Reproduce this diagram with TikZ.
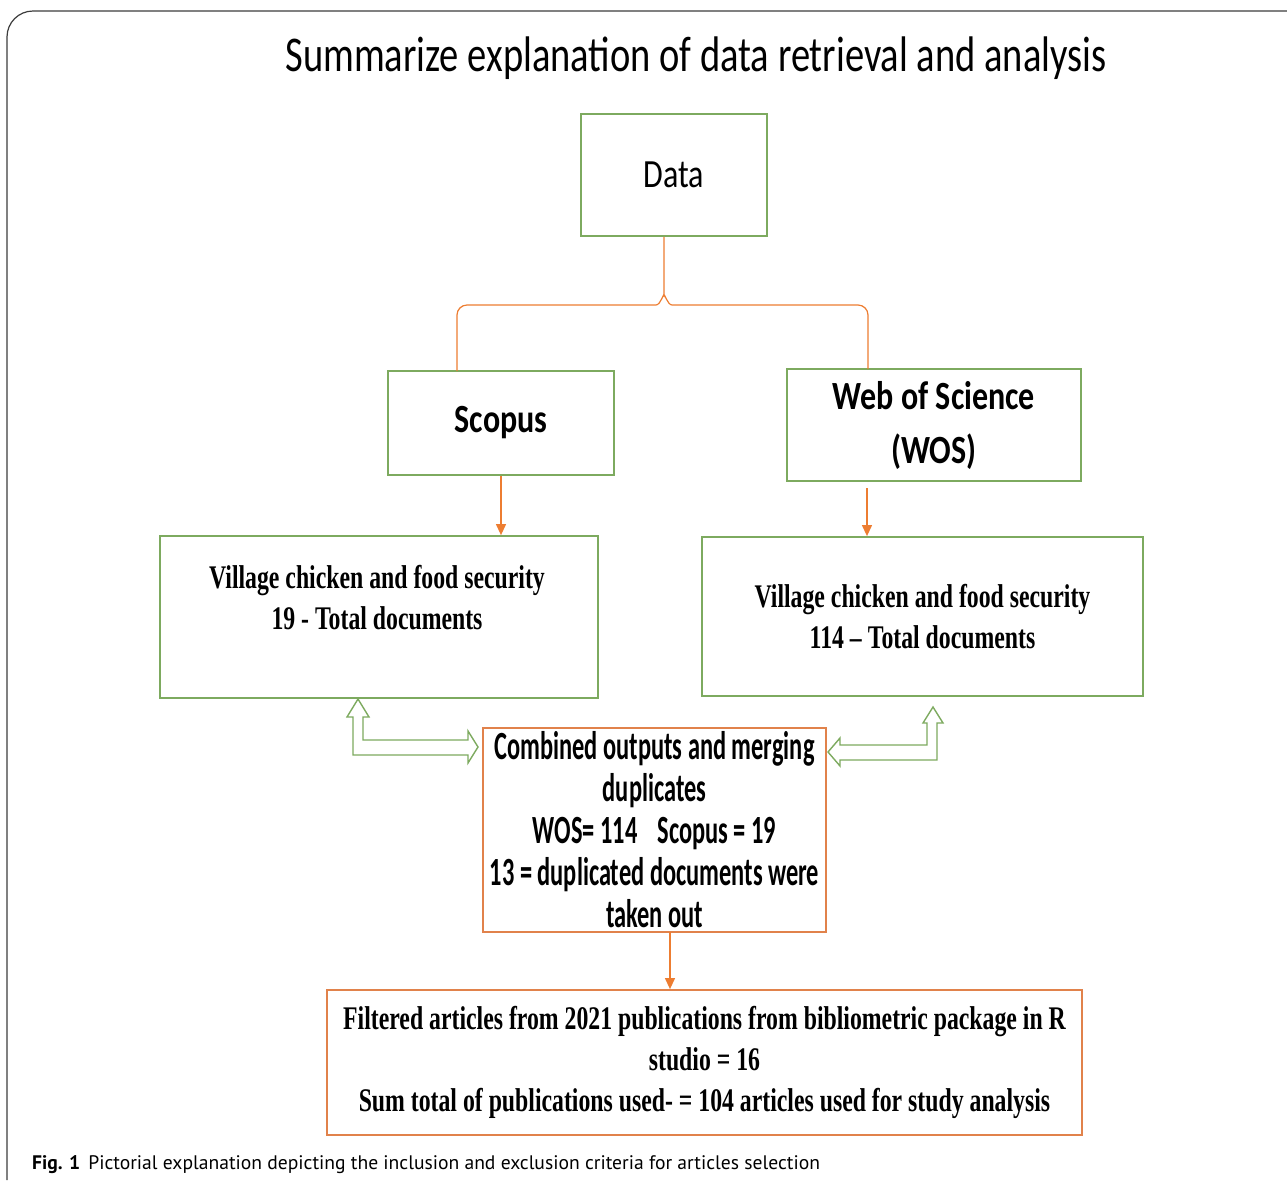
\documentclass[tikz,border=0pt]{standalone}
\usepackage{fontspec}
\setmainfont{Liberation Serif}
\newfontfamily\titrefont[FakeStretch=0.77]{Carlito}
\newfontfamily\sourcefont[FakeStretch=0.8]{Carlito}
\newfontfamily\fusionfont[FakeStretch=0.61]{Carlito}
\newfontfamily\seriffont[FakeStretch=0.72]{Liberation Serif}
\newfontfamily\legendefont{PT Sans}
\usetikzlibrary{arrows.meta}
\definecolor{vertcadre}{RGB}{125,170,95}
\definecolor{orangecadre}{RGB}{225,130,75}
\definecolor{orangefleche}{RGB}{237,125,49}
\definecolor{grisbord}{RGB}{60,60,60}
\begin{document}
\begin{tikzpicture}[x=0.5pt,y=-0.5pt]
% Styles
\tikzstyle{cadre}=[draw=vertcadre,line width=0.9pt,inner sep=0pt]
\tikzstyle{cadreorange}=[draw=orangecadre,line width=0.9pt,inner sep=0pt]
\tikzstyle{fleche}=[-{Triangle[length=5.5pt,width=5pt]},draw=orangefleche,fill=orangefleche,line width=0.6pt]
\tikzstyle{accolade}=[draw=orangefleche,line width=0.6pt]
\tikzstyle{creuse}=[draw=vertcadre,fill=white,line width=0.7pt,line join=miter]
\tikzstyle{titre}=[font=\fontsize{25}{29}\selectfont\titrefont]
\tikzstyle{source}=[font=\fontsize{20}{27}\selectfont\sourcefont\bfseries,align=center]
\tikzstyle{serif}=[font=\fontsize{16.5}{20.5}\selectfont\seriffont\bfseries,align=center]
\tikzstyle{calibri}=[font=\fontsize{20}{21}\selectfont\fusionfont\bfseries,align=center]
% Cadre de la page
\useasboundingbox (0,0) rectangle (1287,1180);
\draw[grisbord,line width=0.6pt,rounded corners=13] (7,1180) -- (7,11) -- (1287,11);
% Titre
\node[titre] (titre) at (696,58) {Summarize explanation of data retrieval and analysis};
% Premiere ligne : Data
\node[cadre,minimum width=93pt,minimum height=61pt,font=\fontsize{20}{24}\selectfont\sourcefont] (data) at (674,175) {Data};
% Deuxieme ligne : bases
\node[cadre,source,minimum width=113pt,minimum height=52pt] (scopus) at (501,423) {\raisebox{-3pt}{Scopus}};
\node[cadre,source,minimum width=147pt,minimum height=56pt] (wos) at (934,425) {\raisebox{-1.5pt}{Web of Science}\\\raisebox{-1.5pt}{(WOS)}};
% Accolade
\coordinate (accG) at (457,371);
\coordinate (accD) at (868,369);
\draw[accolade] (data.south -| 664,0) -- (664,296) to[out=90,in=0] (656,305) -- (467,305)
  to[out=180,in=90] (457,315) -- (accG);
\draw[accolade] (664,296) to[out=90,in=180] (672,305) -- (858,305)
  to[out=0,in=90] (868,315) -- (accD);
% Troisieme ligne : resultats
\node[cadre,minimum width=219pt,minimum height=81pt] (scopusres) at (379,617) {};
\node[serif] (scopusrestxt) at (377,598) {Village chicken and food security\\19 - Total documents};
\node[cadre,serif,minimum width=220.5pt,minimum height=79.5pt] (wosres) at (922.5,616.5) {Village chicken and food security\\114 – Total documents};
\coordinate (wosdep) at (867,488);
\draw[fleche] (scopus.south) -- (scopus.south |- scopusres.north);
\draw[fleche] (wosdep) -- (wosdep |- wosres.north);
% Fusion
\node[cadreorange,calibri,minimum width=171.5pt,minimum height=102pt] (fusion) at (654.5,830) {Combined outputs and merging\\duplicates\\WOS= 114\hspace{10pt}Scopus = 19\\13 = duplicated documents were\\taken out};
% Fleches creuses
\coordinate (flecheG) at (358,699);
\coordinate (flecheD) at (933,707);
\draw[creuse] (flecheG) -- ++(11,18) -- ++(-6,0) -- ++(0,23) -- ++(105,0) -- ++(0,-9) -- ++(10,16)
  -- ++(-10,16) -- ++(0,-8) -- ++(-115,0) -- ++(0,-38) -- ++(-6,0) -- cycle;
\draw[creuse] (flecheD) -- ++(10,16) -- ++(-6,0) -- ++(0,37) -- ++(-97,0) -- ++(0,6) -- ++(-12,-14)
  -- ++(12,-14) -- ++(0,7) -- ++(87,0) -- ++(0,-22) -- ++(-4,0) -- cycle;
% Resultat final
\node[cadreorange,serif,minimum width=377.5pt,minimum height=72.5pt] (final) at (704.5,1062.5) {Filtered articles from 2021 publications from bibliometric package in R\\studio = 16\\Sum total of publications used- = 104 articles used for study analysis};
\coordinate (fusiondep) at (670,932);
\draw[fleche] (fusiondep) -- (fusiondep |- final.north);
% Legende
\node[anchor=base west,font=\fontsize{9.8}{11}\selectfont\legendefont] (legende) at (25,1169) {\textbf{Fig. 1}\hspace{4pt}Pictorial explanation depicting the inclusion and exclusion criteria for articles selection};
\end{tikzpicture}
\end{document}
